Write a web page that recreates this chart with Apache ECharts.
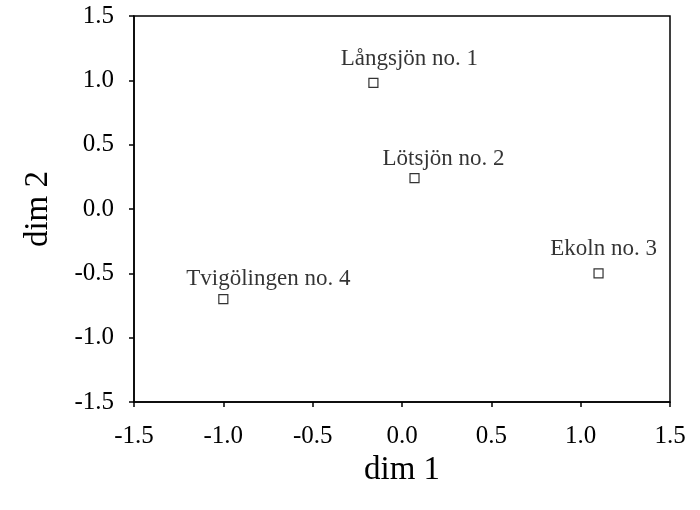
<!DOCTYPE html>
<html><head><meta charset="utf-8">
<script src="https://cdn.jsdelivr.net/npm/echarts@6/dist/echarts.min.js"></script>
<style>html,body{margin:0;padding:0;background:#fff}#c{width:700px;height:510px}</style>
</head><body><div id="c"></div>
<script>
const siteNames = ['Långsjön no. 1', 'Lötsjön no. 2', 'Ekoln no. 3', 'Tvigölingen no. 4'];
const dim1Values = [-0.16, 0.07, 1.10, -1.00];
const dim2Values = [0.98, 0.24, -0.50, -0.70];
const axisTicks = [-1.5, -1.0, -0.5, 0.0, 0.5, 1.0, 1.5];

const labelOffsets = [[36, -2], [29, 2], [5, -3], [45, 1]];
const font = '"Liberation Serif", "Times New Roman", serif';

const chart = echarts.init(document.getElementById('c'), null, {renderer: 'canvas'});
const data = siteNames.map((n, i) => ({
  name: n,
  value: [dim1Values[i], dim2Values[i]],
  label: {offset: labelOffsets[i]}
}));
const axisCommon = {
  min: axisTicks[0], max: axisTicks[axisTicks.length - 1], interval: 0.5,
  splitLine: {show: false},
  axisLine: {show: true, onZero: false, lineStyle: {color: '#000', width: 1.5}},
  axisTick: {show: true, inside: false, length: 5, lineStyle: {color: '#000', width: 1.5}},
  axisLabel: {color: '#000', fontFamily: font, fontSize: 25, formatter: v => v.toFixed(1)},
  nameLocation: 'middle',
  nameTextStyle: {color: '#000', fontFamily: font, fontSize: 33}
};
chart.setOption({
  animation: false,
  grid: {left: 134, right: 30, top: 16, bottom: 108, show: true, borderColor: '#000', borderWidth: 1.5, backgroundColor: 'transparent'},
  xAxis: Object.assign({}, axisCommon, {type: 'value', name: 'dim 1', nameGap: 50,
    axisLabel: Object.assign({}, axisCommon.axisLabel, {margin: 22})}),
  yAxis: Object.assign({}, axisCommon, {type: 'value', name: 'dim 2', nameGap: 79,
    axisLabel: Object.assign({}, axisCommon.axisLabel, {margin: 20})}),
  series: [{
    type: 'scatter',
    symbol: 'rect',
    symbolSize: 9,
    itemStyle: {color: '#fff', borderColor: '#000', borderWidth: 1.2},
    label: {show: true, position: 'top', formatter: '{b}', color: '#000', fontFamily: font, fontSize: 23},
    data: data
  }]
});
</script></body></html>
